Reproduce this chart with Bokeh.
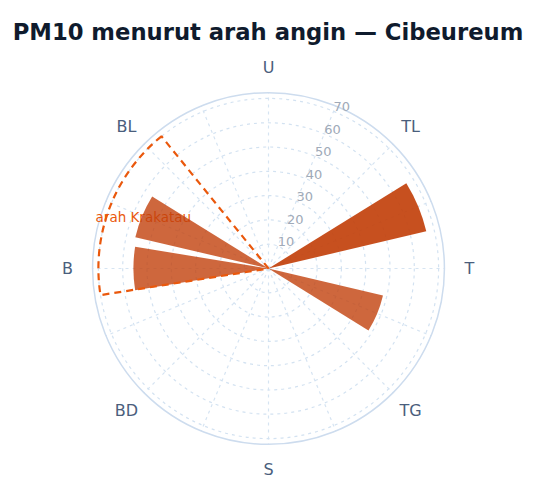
import math
from bokeh.plotting import figure
from bokeh.models import Range1d, ColumnDataSource
from bokeh.core.properties import value
from bokeh.embed import file_html
from bokeh.resources import INLINE

# ---- data ----
title_text = "PM10 menurut arah angin \u2014 Cibeureum"
compass_labels = ["U", "TL", "T", "TG", "S", "BD", "B", "BL"]
compass_bearings = [0, 45, 90, 135, 180, 225, 270, 315]
sector_names = ["TTL", "TTG", "B", "BBL"]
sector_bearings = [67.5, 112.5, 270.0, 292.5]
pm10_values = [66.7, 48.4, 55.6, 56.3]
ring_ticks = [10, 20, 30, 40, 50, 60, 70]
radial_max = 72.4
krakatau_label = "arah Krakatau"
krakatau_from = 261.0
krakatau_to = 321.0
krakatau_radius = 70.0

# ---- layout ----
W, H = 527, 483
CX, CY = 268, 268          # centre of rose in canvas px (from left / top)
K = 2.43                   # px per PM10 unit
SECTOR_WIDTH = 18.5

p = figure(width=W, height=H, output_backend="svg", toolbar_location=None,
           x_range=Range1d(-CX / K, (W - CX) / K),
           y_range=Range1d(-(H - CY) / K, CY / K),
           x_axis_location=None, y_axis_location=None, min_border=0,
           background_fill_color="white", border_fill_color="white")
p.grid.visible = False
p.outline_line_color = None


def pol(bearing, r):
    a = math.radians(90 - bearing)
    return r * math.cos(a), r * math.sin(a)


# radial spokes every 22.5 deg
spokes = [i * 22.5 for i in range(16)]
ends = [pol(b, radial_max) for b in spokes]
p.segment(x0=[0] * 16, y0=[0] * 16, x1=[e[0] for e in ends], y1=[e[1] for e in ends],
          line_color="#d6e4f2", line_width=1.2, line_dash="3 4")

# rings
p.circle(x=[0] * len(ring_ticks), y=[0] * len(ring_ticks), radius=ring_ticks,
         fill_color=None, line_color="#d3e2f1", line_width=1.2, line_dash="3 4")
p.circle(x=[0], y=[0], radius=[radial_max], fill_color=None,
         line_color="#cddcee", line_width=1.5)

# ring labels
rl = [pol(22.5, r) for r in ring_ticks]
p.text(x=[q[0] for q in rl], y=[q[1] for q in rl], text=[str(t) for t in ring_ticks],
       text_align="left", text_baseline="bottom", text_color="#a0aab8",
       text_font=value("DejaVu Sans"), text_font_size="13px")

# compass labels
cl = [pol(b, 82.7) for b in compass_bearings]
p.text(x=[q[0] for q in cl], y=[q[1] for q in cl], text=compass_labels,
       text_align="center", text_baseline="middle", text_color="#4a5e7c",
       text_font=value("DejaVu Sans"), text_font_size="16px")

# Krakatau label
kx, ky = pol(286.7, 74.3)
p.text(x=[kx], y=[ky], text=[krakatau_label], text_align="left", text_baseline="middle",
       text_color="#ea580c", text_font=value("DejaVu Sans"), text_font_size="13.5px")

# bars
vmax = max(pm10_values)
src = ColumnDataSource(dict(
    name=sector_names,
    r=pm10_values,
    start=[90 - (b + SECTOR_WIDTH / 2) for b in sector_bearings],
    end=[90 - (b - SECTOR_WIDTH / 2) for b in sector_bearings],
    alpha=[0.92 if v == vmax else 0.8 for v in pm10_values],
))
p.wedge(x=0, y=0, radius="r", start_angle="start", end_angle="end",
        start_angle_units="deg", end_angle_units="deg",
        source=src, fill_color="#c2410c", fill_alpha="alpha", line_color=None)

# Krakatau direction wedge outline
p.wedge(x=0, y=0, radius=krakatau_radius,
        start_angle=90 - krakatau_to, end_angle=90 - krakatau_from,
        start_angle_units="deg", end_angle_units="deg",
        fill_color=None, line_color="#ea580c", line_width=2.2, line_dash="7 5")

# title
p.text(x=[(267.5 - CX) / K], y=[(CY - 31.7) / K], text=[title_text], text_align="center",
       text_baseline="alphabetic", text_color="#0f1b2d", text_font_style="bold",
       text_font=value("DejaVu Sans"), text_font_size="22.7px")

open("out.html", "w").write(file_html(p, INLINE))
